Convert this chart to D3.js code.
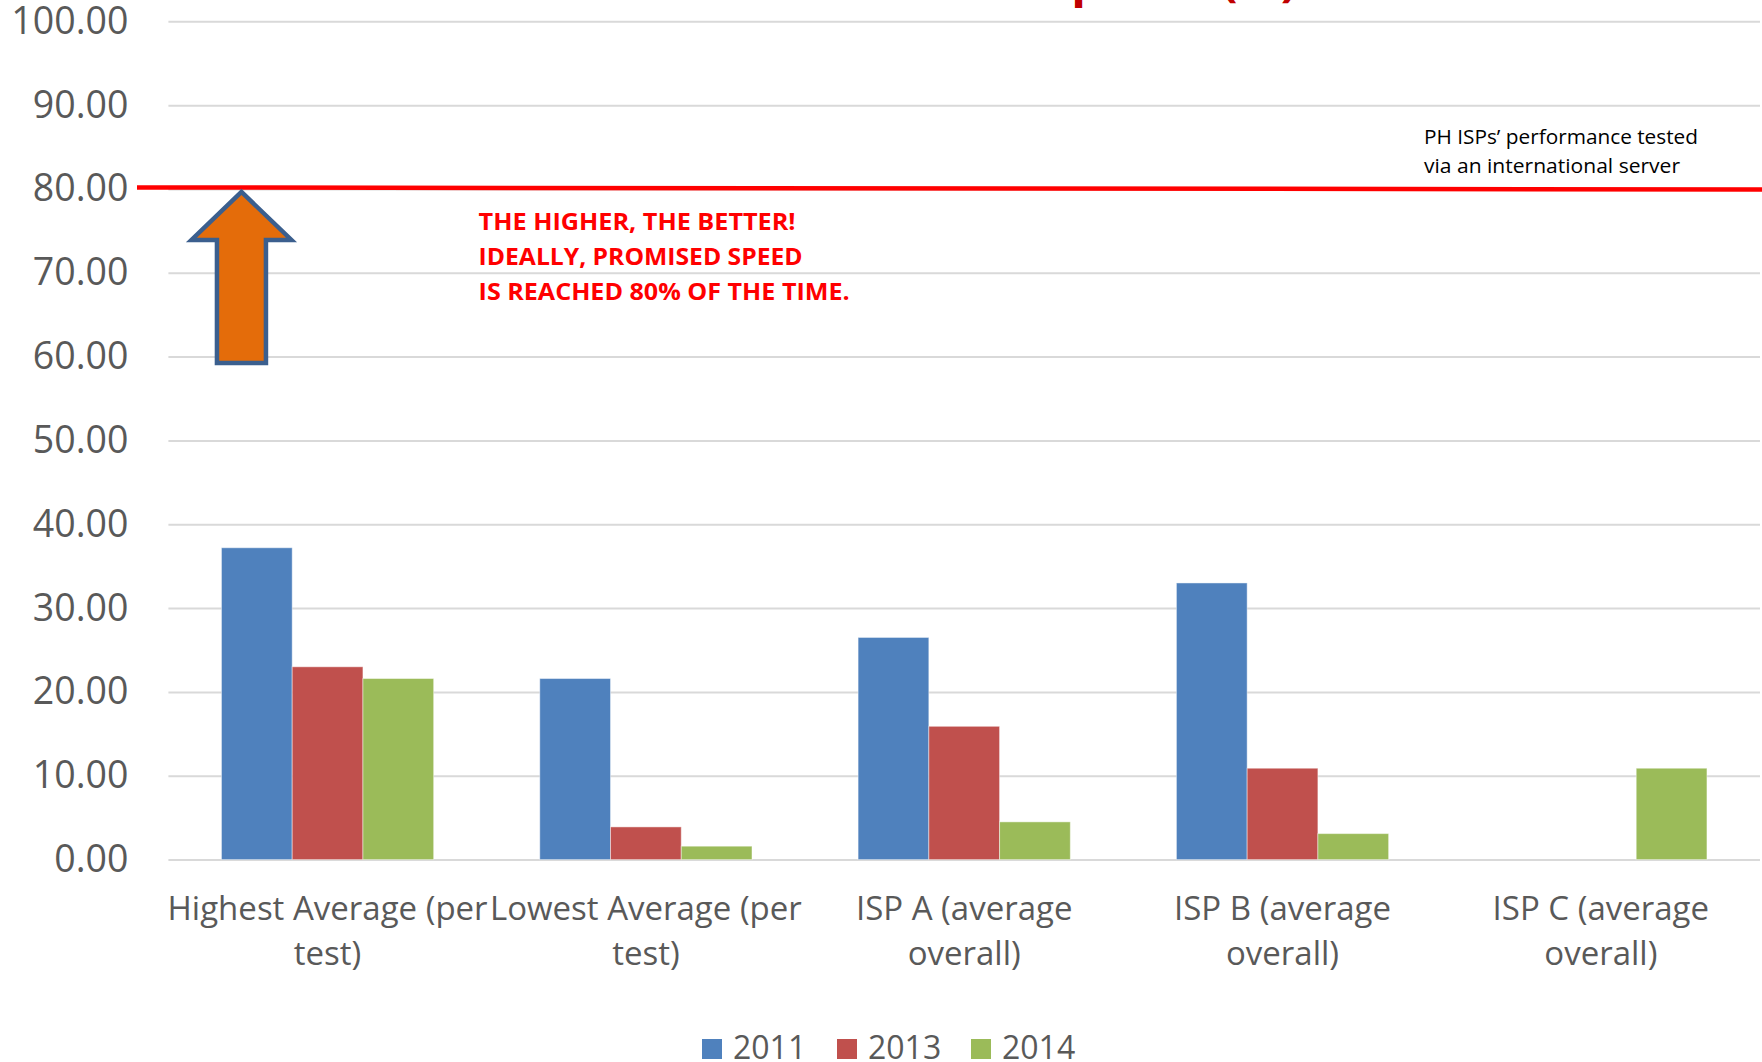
<!DOCTYPE html>
<html>
<head>
<meta charset="utf-8">
<script src="https://cdn.jsdelivr.net/npm/d3@7"></script>
<style>
  html, body { margin: 0; padding: 0; background: #ffffff; }
  svg { display: block; font-family: "Open Sans", "Noto Sans", sans-serif; }
</style>
</head>
<body>
<svg id="chart" width="1762" height="1062"></svg>
<script>
// ---- data ----
const categories = [
  ["Highest Average (per", "test)"],
  ["Lowest Average (per", "test)"],
  ["ISP A (average", "overall)"],
  ["ISP B (average", "overall)"],
  ["ISP C (average", "overall)"]
];
const years = ["2011", "2013", "2014"];
const values2011 = [37.2, 21.6, 26.5, 33.0, null];
const values2013 = [23.0, 3.9, 15.9, 10.9, null];
const values2014 = [21.6, 1.6, 4.5, 3.1, 10.9];
const yTicks = [0, 10, 20, 30, 40, 50, 60, 70, 80, 90, 100];
const targetValue = 80;
const colors = ["#4F81BD", "#C0504D", "#9BBB59"];
const annotationLines = ["THE HIGHER, THE BETTER!", "IDEALLY, PROMISED SPEED", "IS REACHED 80% OF THE TIME."];
const noteLines = ["PH ISPs\u2019 performance tested", "via an international server"];
const titleText = "Promised Speed (%)";

(function () {
// ---- layout ----
const svg = d3.select("#chart");
const plotLeft = 168.4, plotRight = 1760, plotTop = 21.3, plotBottom = 859.6;
const catKeys = categories.map((c, i) => i);
const series = [values2011, values2013, values2014];

const x0 = d3.scaleBand().domain(catKeys).range([plotLeft, plotRight]).paddingInner(1/3).paddingOuter(1/6);
const x1 = d3.scaleBand().domain(years).range([0, x0.bandwidth()]);
const y = d3.scaleLinear().domain([0, 100]).range([plotBottom, plotTop]);

// title (cut off at top)
svg.append("text")
  .attr("x", 1297).attr("y", -4)
  .attr("text-anchor", "end")
  .attr("font-size", 48).attr("font-weight", "bold")
  .attr("word-spacing", 20)
  .attr("fill", "#C00000")
  .text(titleText);

// gridlines
const grid = svg.append("g").attr("transform", `translate(${plotLeft},0)`)
  .call(d3.axisLeft(y).tickValues(yTicks).tickSize(-(plotRight - plotLeft)).tickFormat(""));
grid.select(".domain").remove();
grid.selectAll("line").attr("stroke", "#D9D9D9").attr("stroke-width", 2);

// y axis labels
const yAxis = svg.append("g").attr("transform", `translate(${plotLeft},0)`)
  .call(d3.axisLeft(y).tickValues(yTicks).tickSize(0).tickPadding(40).tickFormat(d => d.toFixed(2)));
yAxis.select(".domain").remove();
yAxis.selectAll("text")
  .attr("font-family", "'Open Sans', sans-serif")
  .attr("font-size", 37.5).attr("fill", "#595959");

// bars
const groups = svg.append("g").selectAll("g")
  .data(catKeys).join("g")
  .attr("transform", d => `translate(${x0(d)},0)`);
groups.selectAll("rect")
  .data(ci => years.map((yr, si) => ({ yr, si, v: series[si][ci] })).filter(d => d.v != null))
  .join("rect")
  .attr("x", d => x1(d.yr))
  .attr("width", x1.bandwidth())
  .attr("y", d => y(d.v))
  .attr("height", d => y(0) - y(d.v))
  .attr("fill", d => colors[d.si])
  .attr("stroke", "rgba(255,255,255,0.45)")
  .attr("stroke-width", 1);

// x axis labels
const xAxis = svg.append("g").attr("transform", `translate(0,${plotBottom})`)
  .call(d3.axisBottom(x0).tickSize(0).tickFormat(""));
xAxis.select(".domain").remove();
xAxis.selectAll(".tick").each(function(d) {
  const t = d3.select(this).append("text")
    .attr("text-anchor", "middle")
    .attr("font-family", "'Open Sans', sans-serif")
    .attr("font-size", 33).attr("fill", "#595959");
  categories[d].forEach((line, i) => {
    t.append("tspan").attr("x", 0).attr("y", 60 + i * 45).text(line);
  });
});

// red target line
svg.append("line")
  .attr("x1", 137).attr("x2", 1762)
  .attr("y1", y(targetValue) - 1.5).attr("y2", y(targetValue) + 0.5)
  .attr("stroke", "#FF0000").attr("stroke-width", 4.5);

// arrow annotation
const ax = x0(0) + 20, tipY = y(targetValue) + 3;
const arrowPts = [
  [ax, tipY], [ax + 50, tipY + 48], [ax + 24.5, tipY + 48], [ax + 24.5, tipY + 171],
  [ax - 24.5, tipY + 171], [ax - 24.5, tipY + 48], [ax - 50, tipY + 48]
];
svg.append("polygon")
  .attr("points", arrowPts.map(p => p.join(",")).join(" "))
  .attr("fill", "#E46C0A").attr("stroke", "#3B5F8E").attr("stroke-width", 4.5)
  .attr("stroke-linejoin", "miter");

// red annotation text
const annWidths = [317, 324, 371];
annotationLines.forEach((line, i) => {
  svg.append("text")
    .attr("x", 478.6).attr("y", 230 + i * 35)
    .attr("font-size", 24).attr("font-weight", "bold")
    .attr("fill", "#FF0000")
    .attr("textLength", annWidths[i]).attr("lengthAdjust", "spacingAndGlyphs")
    .text(line);
});

// note text
const noteWidths = [274, 256];
noteLines.forEach((line, i) => {
  svg.append("text")
    .attr("x", 1424).attr("y", 144 + i * 28.5)
    .attr("font-size", 20).attr("fill", "#000000")
    .attr("textLength", noteWidths[i]).attr("lengthAdjust", "spacingAndGlyphs")
    .text(line);
});

// legend
const legendX = [702, 837, 971];
const legend = svg.append("g");
years.forEach((yr, i) => {
  legend.append("rect").attr("x", legendX[i]).attr("y", 1039).attr("width", 20).attr("height", 20).attr("fill", colors[i]);
  legend.append("text").attr("x", legendX[i] + 31).attr("y", 1059)
    .attr("font-size", 32).attr("fill", "#595959").text(yr);
});
})();
</script>
</body>
</html>
